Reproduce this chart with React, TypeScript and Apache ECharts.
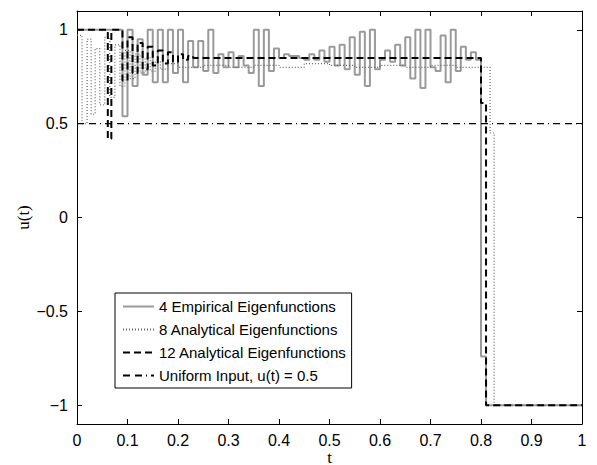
import React, { useEffect, useRef } from "react";
import * as echarts from "echarts";

// ---- data ----
const seriesNames = [
  "4 Empirical Eigenfunctions",
  "8 Analytical Eigenfunctions",
  "12 Analytical Eigenfunctions",
  "Uniform Input, u(t) = 0.5",
];

// step start times and values (value holds until next time)
const empiricalT = [
  0, 0.09, 0.1, 0.11, 0.12, 0.13, 0.14, 0.15, 0.16, 0.17, 0.18, 0.19, 0.2, 0.21, 0.22, 0.23, 0.24, 0.25,
  0.26, 0.27, 0.28, 0.29, 0.3, 0.31, 0.32, 0.33, 0.34, 0.35, 0.36, 0.37, 0.38, 0.39, 0.4, 0.41, 0.42,
  0.43, 0.44, 0.45, 0.46, 0.47, 0.48, 0.49, 0.5, 0.51, 0.52, 0.53, 0.54, 0.55, 0.56, 0.57, 0.58, 0.59,
  0.6, 0.61, 0.62, 0.63, 0.64, 0.65, 0.66, 0.67, 0.68, 0.69, 0.7, 0.71, 0.72, 0.73, 0.74, 0.75, 0.76,
  0.77, 0.78, 0.79, 0.8, 0.81, 1.0,
];
const empiricalU = [
  1.0, 0.54, 1.0, 0.7, 0.95, 0.76, 1.0, 0.72, 1.0, 0.72, 1.0, 0.77, 1.0, 0.72, 0.94, 0.8, 0.94, 0.78,
  1.0, 0.77, 0.87, 0.8, 0.88, 0.8, 0.86, 0.81, 0.77, 1.0, 0.7, 1.0, 0.78, 0.9, 0.85, 0.87, 0.86,
  0.86, 0.85, 0.84, 0.87, 0.84, 0.89, 0.83, 0.91, 0.81, 0.92, 0.79, 0.96, 0.76, 0.99, 0.7, 1.0, 0.79,
  0.84, 0.89, 0.83, 0.92, 0.81, 0.96, 0.74, 1.0, 0.69, 1.0, 0.8, 0.78, 0.97, 0.72, 1.0, 0.78, 0.91,
  0.84, 0.88, 0.84, -0.74, -1.0, -1.0,
];

const analytical8T = [
  0, 0.01, 0.02, 0.028, 0.036, 0.045, 0.055, 0.065, 0.075, 0.085, 0.095, 0.105,
  0.115, 0.125, 0.135, 0.145, 0.155, 0.165, 0.18, 0.2, 0.25, 0.3, 0.35, 0.4, 0.45, 0.5, 0.55, 0.6,
  0.65, 0.7, 0.75, 0.818, 0.826, 1.0,
];
const analytical8U = [
  0.97, 0.5, 0.95, 0.55, 0.9, 0.6, 0.96, 0.64, 0.92, 0.7, 0.89, 0.74,
  0.87, 0.77, 0.85, 0.78, 0.83, 0.79, 0.82, 0.8, 0.81, 0.8, 0.81, 0.8, 0.82, 0.81, 0.8, 0.81,
  0.8, 0.81, 0.8, 0.45, -1.0, -1.0,
];

const analytical12T = [
  0, 0.061, 0.068, 0.09, 0.1, 0.11, 0.12, 0.13, 0.14, 0.15, 0.16, 0.17, 0.18, 0.19, 0.2, 0.21, 0.22,
  0.23, 0.8, 0.81, 1.0,
];
const analytical12U = [
  1.0, 0.42, 1.0, 0.73, 0.96, 0.77, 0.93, 0.79, 0.91, 0.81, 0.89, 0.82, 0.88, 0.83, 0.87, 0.84, 0.86,
  0.85, 0.61, -1.0, -1.0,
];

const uniformT = [0, 1.0];
const uniformU = [0.5, 0.5];

const xTicks = [0, 0.1, 0.2, 0.3, 0.4, 0.5, 0.6, 0.7, 0.8, 0.9, 1];
const yTicks = [-1, -0.5, 0, 0.5, 1];

const pairs = (t: number[], u: number[]) => t.map((x, i) => [x, u[i]]);

const SANS = "'Liberation Sans', Arial, Helvetica, sans-serif";
const SERIF = "'Liberation Serif', 'Times New Roman', serif";

export default function App() {
  const ref = useRef<HTMLDivElement>(null);
  useEffect(() => {
    if (!ref.current) return;
    const chart = echarts.init(ref.current, undefined, { renderer: "svg" });
    const axisLine = { show: true, onZero: false, lineStyle: { color: "#000", width: 1 } };
    const fmtNum = (v: number) => {
      const r = Math.round(v * 10) / 10;
      return String(r).replace("-", "\u2212");
    };
    chart.setOption({
      animation: false,
      backgroundColor: "#fff",
      grid: {
        left: 77,
        right: 15,
        top: 11,
        bottom: 41,
        show: false,
        containLabel: false,
        outerBoundsMode: "none",
      },
      xAxis: [
        {
          type: "value",
          min: 0,
          max: 1,
          interval: 0.1,
          position: "bottom",
          name: "t",
          nameLocation: "middle",
          nameGap: 25,
          nameMoveOverlap: false,
          nameTextStyle: { fontFamily: SERIF, fontSize: 17, lineHeight: 16, color: "#000" },
          axisLine,
          axisTick: { show: true, inside: true, length: 5, lineStyle: { color: "#000" } },
          axisLabel: {
            fontFamily: SANS,
            fontSize: 16,
            color: "#000",
            margin: 8,
            formatter: (v: number) => fmtNum(v),
            customValues: xTicks,
          },
          splitLine: { show: false },
        },
        {
          type: "value",
          min: 0,
          max: 1,
          interval: 0.1,
          position: "top",
          axisLine,
          axisTick: { show: true, inside: true, length: 5, lineStyle: { color: "#000" } },
          axisLabel: { show: false },
          splitLine: { show: false },
        },
      ],
      yAxis: [
        {
          type: "value",
          min: -1.1,
          max: 1.1,
          position: "left",
          name: "u(t)",
          nameLocation: "middle",
          nameGap: 45,
          nameMoveOverlap: false,
          nameRotate: 90,
          nameTextStyle: { fontFamily: SERIF, fontSize: 17, color: "#000" },
          axisLine,
          axisTick: {
            show: true,
            inside: true,
            length: 5,
            lineStyle: { color: "#000" },
            customValues: yTicks,
          },
          axisLabel: {
            fontFamily: SANS,
            fontSize: 16,
            color: "#000",
            margin: 9,
            formatter: (v: number) => fmtNum(v),
            customValues: yTicks,
          },
          splitLine: { show: false },
        },
        {
          type: "value",
          min: -1.1,
          max: 1.1,
          position: "right",
          axisLine,
          axisTick: {
            show: true,
            inside: true,
            length: 5,
            lineStyle: { color: "#000" },
            customValues: yTicks,
          },
          axisLabel: { show: false },
          splitLine: { show: false },
        },
      ],
      legend: {
        orient: "vertical",
        left: 115,
        top: 293,
        itemWidth: 31,
        itemHeight: 14,
        itemGap: 8,
        padding: [6, 5, 5, 7],
        borderColor: "#000",
        borderWidth: 1,
        borderRadius: 0,
        backgroundColor: "#fff",
        selectedMode: false,
        itemStyle: { color: "transparent", borderWidth: 0, opacity: 0 },
        textStyle: { fontFamily: SANS, fontSize: 15, color: "#000" },
        data: seriesNames,
      },
      series: [
        {
          name: seriesNames[0],
          type: "line",
          step: "end",
          symbol: "none",
          data: pairs(empiricalT, empiricalU),
          lineStyle: { color: "#9a9a9a", width: 2, type: "solid" },
          itemStyle: { color: "#9a9a9a" },
          z: 2,
        },
        {
          name: seriesNames[1],
          type: "line",
          step: "end",
          symbol: "none",
          data: pairs(analytical8T, analytical8U),
          lineStyle: { color: "#666", width: 1.2, type: [1, 2] },
          itemStyle: { color: "#666" },
          z: 3,
        },
        {
          name: seriesNames[2],
          type: "line",
          step: "end",
          symbol: "none",
          data: pairs(analytical12T, analytical12U),
          lineStyle: { color: "#000", width: 2, type: [7, 4] },
          itemStyle: { color: "#000" },
          z: 4,
        },
        {
          name: seriesNames[3],
          type: "line",
          symbol: "none",
          data: pairs(uniformT, uniformU),
          lineStyle: { color: "#000", width: 1.2, type: [7, 5, 7, 4, 1, 4] },
          itemStyle: { color: "#000" },
          z: 5,
        },
      ],
    });
    return () => chart.dispose();
  }, []);
  return (
    <div
      ref={ref}
      style={{ position: "fixed", left: 0, top: 0, width: 597, height: 465, background: "#fff" }}
    />
  );
}
